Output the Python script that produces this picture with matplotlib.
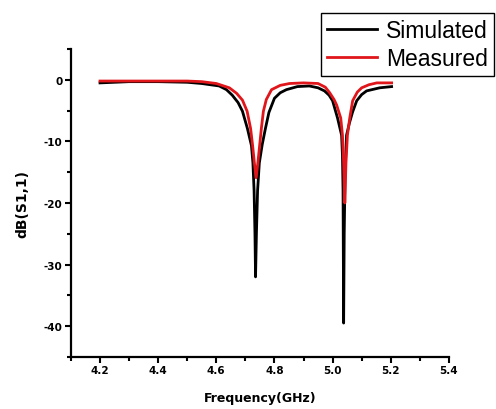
import matplotlib
matplotlib.use("Agg")
import matplotlib.pyplot as plt
from matplotlib.ticker import MultipleLocator

# values
sim_freq = [4.20, 4.30, 4.40, 4.50, 4.55, 4.58, 4.61, 4.635, 4.655, 4.675, 4.69, 4.707, 4.721,
            4.726, 4.730, 4.733, 4.735, 4.738, 4.742, 4.748, 4.758, 4.769, 4.781, 4.80, 4.82,
            4.841, 4.879, 4.92, 4.95, 4.972, 4.988, 5.0, 5.017, 5.031, 5.034, 5.036, 5.038,
            5.040, 5.043, 5.048, 5.058, 5.069, 5.083, 5.10, 5.117, 5.162, 5.203]
sim_db = [-0.5, -0.3, -0.3, -0.4, -0.6, -0.8, -1.0, -1.6, -2.5, -3.7, -5.1, -7.9, -10.7,
          -13.5, -18.0, -25.0, -32.0, -25.0, -18.0, -13.5, -10.5, -7.9, -5.3, -3.0, -2.1,
          -1.6, -1.1, -1.0, -1.3, -1.8, -2.5, -3.4, -6.2, -9.0, -12.3, -18.0, -39.5,
          -25.0, -15.0, -9.0, -7.0, -5.2, -3.4, -2.4, -1.8, -1.3, -1.1]

meas_freq = [4.20, 4.30, 4.40, 4.50, 4.55, 4.60, 4.645, 4.67, 4.69, 4.706, 4.718, 4.725, 4.731,
             4.737, 4.743, 4.749, 4.755, 4.762, 4.772, 4.79, 4.82, 4.852, 4.90, 4.95, 4.975,
             4.99, 5.005, 5.014, 5.028, 5.034, 5.038, 5.042, 5.046, 5.051, 5.059, 5.069,
             5.085, 5.10, 5.125, 5.152, 5.203]
meas_db = [-0.2, -0.2, -0.2, -0.2, -0.3, -0.6, -1.3, -2.2, -3.3, -5.1, -7.9, -10.7, -13.5,
           -15.9, -13.5, -10.7, -7.9, -5.1, -3.2, -1.6, -0.9, -0.6, -0.5, -0.6, -1.2,
           -2.1, -3.2, -4.1, -6.2, -9.0, -13.5, -20.0, -13.5, -9.0, -6.2, -3.4,
           -2.0, -1.3, -0.8, -0.5, -0.5]

x_ticks = [4.2, 4.4, 4.6, 4.8, 5.0, 5.2, 5.4]
y_ticks = [0, -10, -20, -30, -40]

plt.rcParams["axes.unicode_minus"] = False

fig = plt.figure(figsize=(4.96, 4.10), dpi=100)
ax = fig.add_axes([0.143, 0.127, 0.762, 0.751])

ax.plot(sim_freq, sim_db, color="black", lw=2.0, label="Simulated")
ax.plot(meas_freq, meas_db, color="#e0161b", lw=2.0, label="Measured")

ax.set_xlim(4.1, 5.4)
ax.set_ylim(-45, 5)
ax.set_xticks(x_ticks)
ax.set_xticklabels(["%.1f" % v for v in x_ticks])
ax.set_yticks(y_ticks)
ax.set_yticklabels([str(v) for v in y_ticks])
ax.xaxis.set_minor_locator(MultipleLocator(0.1))
ax.yaxis.set_minor_locator(MultipleLocator(5))

for s in ["top", "right"]:
    ax.spines[s].set_visible(False)
for s in ["left", "bottom"]:
    ax.spines[s].set_linewidth(1.6)

ax.tick_params(which="major", direction="out", length=4, width=1.5, labelsize=7.5, pad=2)
ax.tick_params(which="minor", direction="out", length=3, width=1.5)
for lab in ax.get_xticklabels() + ax.get_yticklabels():
    lab.set_fontweight("bold")

ax.set_xlabel("Frequency(GHz)", fontsize=9, fontweight="bold", labelpad=11)
ax.set_ylabel("dB(S1,1)", fontsize=10, fontweight="bold", labelpad=10)

leg = fig.legend(loc="upper right", bbox_to_anchor=(0.996, 0.966), fancybox=False,
                 edgecolor="black", framealpha=1, prop={"family": "Liberation Sans", "size": 16.5},
                 handlelength=2.2, handletextpad=0.4, labelspacing=0.25, borderpad=0.25,
                 borderaxespad=0)
leg.get_frame().set_linewidth(1.0)

fig.savefig("out.png", dpi=100)
